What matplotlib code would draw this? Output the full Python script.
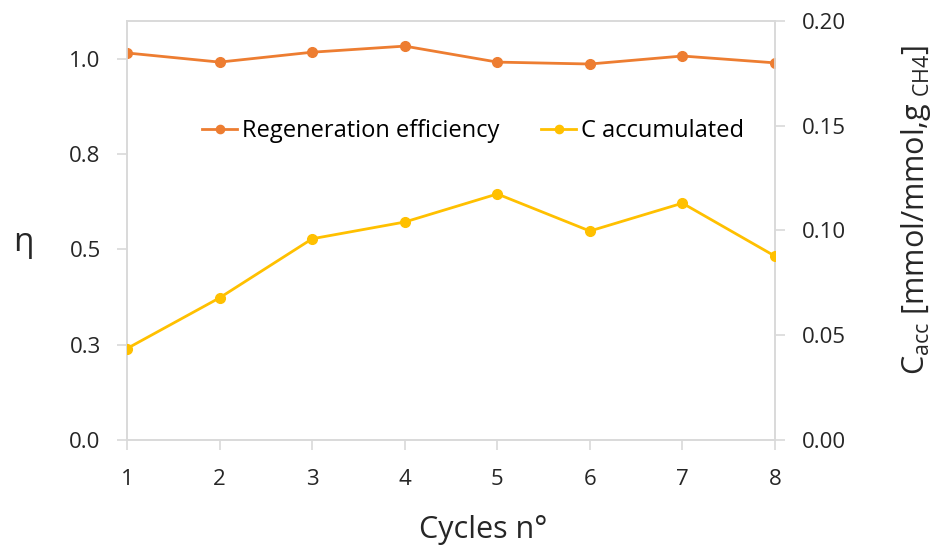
import matplotlib
matplotlib.use("Agg")
import matplotlib.pyplot as plt

plt.rcParams['font.family'] = ['Open Sans', 'DejaVu Sans']
plt.rcParams['mathtext.default'] = 'regular'

cycles = [1, 2, 3, 4, 5, 6, 7, 8]
regen_eff = [1.016, 0.992, 1.018, 1.034, 0.992, 0.987, 1.008, 0.990]
c_accum = [0.0436, 0.0678, 0.0960, 0.1040, 0.1174, 0.0997, 0.1130, 0.0877]

eta_ticks = [0.0, 0.25, 0.5, 0.75, 1.0]
eta_labels = ["0.0", "0.3", "0.5", "0.8", "1.0"]
c_ticks = [0.0, 0.05, 0.10, 0.15, 0.20]
c_labels = ["0.00", "0.05", "0.10", "0.15", "0.20"]

ORANGE = "#ED7D31"
YELLOW = "#FFC000"
SPINE = "#D9D9D9"
TEXT = "#262626"

fig = plt.figure(figsize=(9.41, 5.45), dpi=100)
ax = fig.add_axes([0.135, 0.193, 0.6886, 0.7685])
ax2 = ax.twinx()

l1, = ax.plot(cycles, regen_eff, color=ORANGE, lw=2.0, marker='o', ms=7,
              label="Regeneration efficiency", zorder=3)
l2, = ax2.plot(cycles, c_accum, color=YELLOW, lw=2.0, marker='o', ms=7,
               label="C accumulated", zorder=3)

ax.set_xlim(1, 8)
ax.set_ylim(0, 1.1)
ax2.set_ylim(0, 0.2)

ax.set_xticks(cycles)
ax.set_yticks(eta_ticks)
ax.set_yticklabels(eta_labels)
ax2.set_yticks(c_ticks)
ax2.set_yticklabels(c_labels)

for a in (ax, ax2):
    for s in a.spines.values():
        s.set_color(SPINE)
        s.set_linewidth(1.2)
    a.tick_params(colors=SPINE, labelcolor=TEXT, labelsize=16, length=7, width=1.2)
ax.tick_params(axis='x', pad=14)
ax.tick_params(axis='y', pad=12)
ax2.tick_params(axis='y', pad=12)

ax.set_xlabel("Cycles n°", fontsize=22, color=TEXT, va='center')
ax.xaxis.set_label_coords(0.549, -0.215)
ax.set_ylabel("η", fontsize=24, color=TEXT, rotation=0, va='center', ha='center')
ax.yaxis.set_label_coords(-0.160, 0.47)

fig.text(0.955, 0.615, "C$_{acc}$ [mmol/mmol,g$_{\\ CH4}$]", fontsize=22, color=TEXT,
         rotation=90, ha='left', va='center')

ax.legend(handles=[l1, l2], loc='center', bbox_to_anchor=(0.534, 0.737), ncol=2,
          frameon=False, fontsize=17, handlelength=1.5, handletextpad=0.2,
          columnspacing=1.75, markerscale=0.85)

fig.savefig("out.png", dpi=100)
